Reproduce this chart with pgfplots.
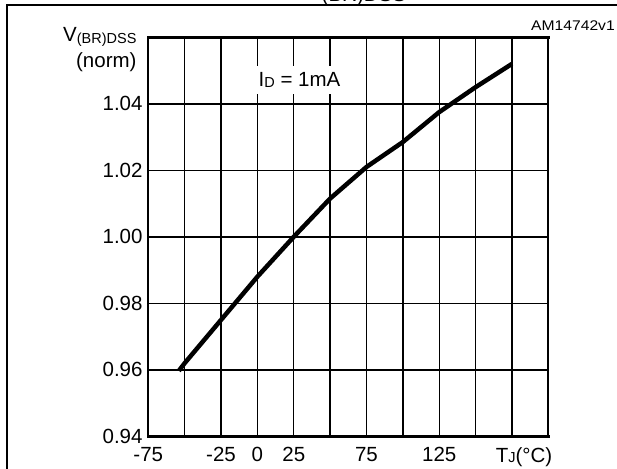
\documentclass[border=0pt]{standalone}
\usepackage{fontspec}
\setmainfont{Liberation Sans}
\usepackage{pgfplots}
\pgfplotsset{compat=1.18}

\newcommand{\lbl}{\fontsize{20.5}{22}\selectfont}
\newcommand{\sub}{\fontsize{14.5}{15}\selectfont}

\begin{document}
\begin{tikzpicture}[x=1pt,y=1pt]
  \useasboundingbox (0,0) rectangle (617,-468);
  \clip (0,0) rectangle (617,-468);
  % outer frame of the figure, cut by the image edge
  \draw[line width=2pt] (7,-470) -- (7,-5) -- (620,-5);
  % remains of the cut-off title
  \node[anchor=base west, inner sep=0pt, font=\lbl] at (321.5,-1.5) {(BR)DSS};

  \begin{axis}[
    at={(148.3pt,-436.3pt)}, anchor=south west,
    scale only axis, width=400pt, height=399pt,
    xmin=-75, xmax=200, ymin=0.94, ymax=1.06,
    xtick={-75,-50,...,200},
    xticklabels={-75,,-25,0,25,,75,,125,,,},
    ytick={0.94,0.96,0.98,1.00,1.02,1.04},
    yticklabels={0.94,0.96,0.98,1.00,1.02,1.04},
    tick style={draw=none},
    grid=major,
    major grid style={black, line width=1.4pt},
    separate axis lines,
    x axis line style={line width=2.8pt, line cap=rect},
    y axis line style={line width=1.9pt, line cap=rect},
    ticklabel style={font=\lbl, inner sep=0pt},
    xticklabel style={anchor=north, yshift=-10.5pt},
    yticklabel style={anchor=east, xshift=-5.6pt},
  ]
    \addplot[black, line width=4.5pt, line join=round] coordinates {
      (-54,0.9597) (-50,0.9620) (-25,0.9750) (0,0.9880) (25,1.0000)
      (50,1.0115) (75,1.0210) (100,1.0285) (125,1.0375) (150,1.0450)
      (175,1.0520)
    };
  \end{axis}

  % texts round the axis
  \node[anchor=base east, inner sep=0pt, font=\lbl] at (136.7,-41.7)
    {V\raisebox{-1.5pt}{\sub(BR)DSS}};
  \node[anchor=base east, inner sep=0pt, font=\lbl] at (136.7,-67.5) {(norm)};
  \node[anchor=base east, inner sep=0pt, font=\fontsize{14}{15}\selectfont]
    at (615,-30.5) {\scalebox{1.12}[1]{AM14742v1}};
  \node[anchor=base west, fill=white, inner xsep=3.5pt, inner ysep=7pt, font=\lbl]
    at (255,-86.7) {I\raisebox{-0.5pt}{\sub D} = 1mA};
  \node[anchor=north, inner sep=0pt, font=\lbl] at (524,-447)
    {T\raisebox{-0.5pt}{\sub J}(°C)};
\end{tikzpicture}
\end{document}
